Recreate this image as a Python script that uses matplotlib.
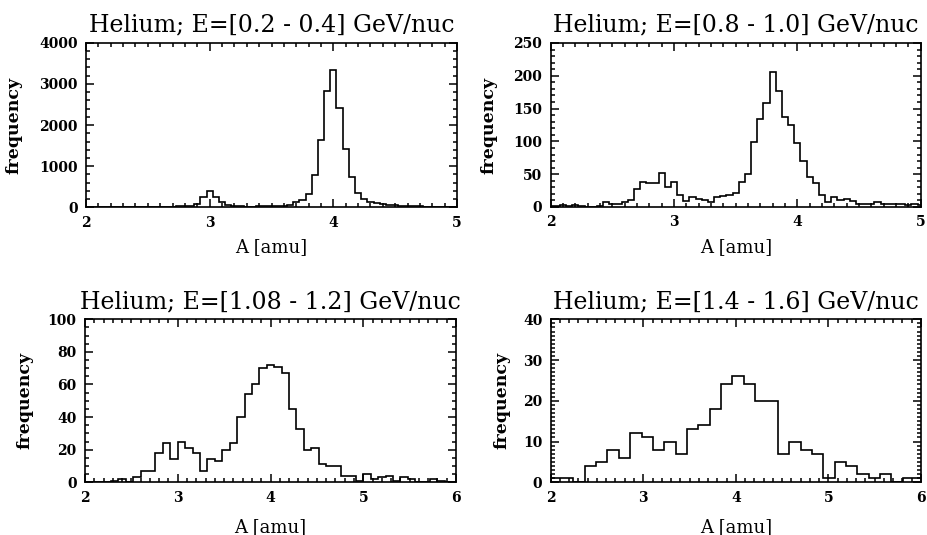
import numpy as np
import matplotlib
matplotlib.use("Agg")
import matplotlib.pyplot as plt
from matplotlib.ticker import MultipleLocator

plt.rcParams['font.family'] = ['DejaVu Serif']
plt.rcParams['font.weight'] = 'bold'

# Helium mass histograms, four energy windows
titles = ["Helium; E=[0.2 - 0.4] GeV/nuc",
          "Helium; E=[0.8 - 1.0] GeV/nuc",
          "Helium; E=[1.08 - 1.2] GeV/nuc",
          "Helium; E=[1.4 - 1.6] GeV/nuc"]

# bin layout (first edge, width, count)
bins_02_04 = (1.975, 0.05, 61)
bins_08_10 = (1.975, 0.05, 61)
bins_108_12 = (1.96, 0.08, 51)
bins_14_16 = (2.0, 0.1227, 33)

counts_02_04 = [2, 2, 3, 3, 3, 4, 4, 5, 5, 6, 7, 8, 10, 12, 15, 20, 25, 30, 80, 243,
                396, 258, 136, 56, 30, 22, 18, 18, 20, 22, 25, 28, 32, 63, 121, 170, 316, 777, 1635, 2826,
                3336, 2405, 1425, 729, 347, 194, 129, 97, 73, 63, 45, 38, 30, 25, 22, 18, 15, 12, 10, 8,
                6]
counts_08_10 = [1, 1, 3, 2, 3, 1, 0, 0, 1, 7, 4, 5, 7, 11, 28, 38, 36, 36, 52, 31,
                38, 19, 9, 15, 12, 10, 7, 15, 16, 18, 22, 38, 50, 99, 134, 159, 205, 177, 137, 125,
                97, 70, 46, 36, 18, 8, 15, 10, 12, 9, 5, 4, 5, 8, 5, 4, 5, 4, 3, 4,
                3]
counts_108_12 = [0, 0, 0, 0, 1, 2, 0, 3, 7, 7, 18, 24, 14, 25, 21, 18, 7, 14, 13, 20,
                 24, 40, 54, 60, 70, 72, 71, 67, 45, 33, 20, 21, 11, 10, 10, 4, 4, 1, 5, 2,
                 3, 4, 1, 3, 2, 0, 0, 2, 1, 0, 0]
counts_14_16 = [1, 1, 0, 4, 5, 8, 6, 12, 11, 8, 10, 7, 13, 14, 18, 24, 26, 24, 20, 20,
                7, 10, 8, 7, 1, 5, 4, 2, 1, 2, 0, 1, 1]

xmax = [5, 5, 6, 6]
ymax = [4000, 250, 100, 40]
ymajor = [1000, 50, 20, 10]
yminor = [200, 10, 5, 1]

# axes boxes in figure fractions [left, bottom, width, height]
boxes = [[0.0927, 0.6125, 0.3998, 0.3075],
         [0.5934, 0.6131, 0.3987, 0.3066],
         [0.0916, 0.0985, 0.3998, 0.3047],
         [0.5934, 0.0985, 0.3990, 0.3047]]
ylab_x = [-0.170, -0.145, -0.140, -0.108]
xlab_pad = [6, 6, 10, 10]

fig = plt.figure(figsize=(9.28, 5.35), dpi=100)

data = [(bins_02_04, counts_02_04), (bins_08_10, counts_08_10),
        (bins_108_12, counts_108_12), (bins_14_16, counts_14_16)]

for i, ((start, width, n), counts) in enumerate(data):
    ax = fig.add_axes(boxes[i])
    edges = start + width * np.arange(n + 1)
    ax.stairs(counts, edges, color='black', lw=1.2)
    ax.set_xlim(2, xmax[i])
    ax.set_ylim(0, ymax[i])
    ax.xaxis.set_major_locator(MultipleLocator(1))
    ax.xaxis.set_minor_locator(MultipleLocator(0.1))
    ax.yaxis.set_major_locator(MultipleLocator(ymajor[i]))
    ax.yaxis.set_minor_locator(MultipleLocator(yminor[i]))
    ax.tick_params(which='both', direction='in', top=True, right=True, width=1.1)
    ax.tick_params(which='major', length=5.5, labelsize=10, pad=6)
    ax.tick_params(which='minor', length=3)
    for s in ax.spines.values():
        s.set_linewidth(1.2)
    ax.set_title(titles[i], fontsize=17, fontweight='normal', pad=8)
    ax.set_xlabel("A [amu]", fontsize=13, fontweight='normal', labelpad=xlab_pad[i])
    ax.set_ylabel("frequency", fontsize=12.5, fontweight='bold')
    ax.yaxis.set_label_coords(ylab_x[i], 0.5)

fig.savefig("out.png", dpi=100)
